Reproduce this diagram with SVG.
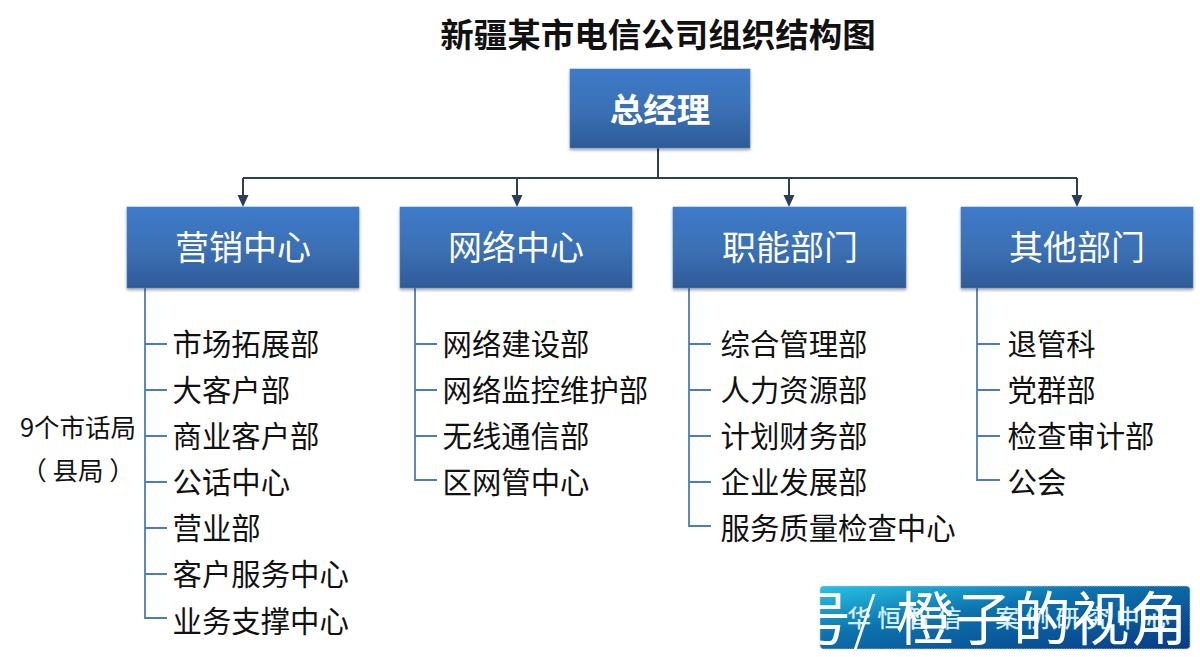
<svg xmlns="http://www.w3.org/2000/svg" width="1200" height="657" viewBox="0 0 1200 657">
<style>
text{font-family:"Noto Sans CJK SC","Microsoft YaHei",sans-serif}
.box{fill:url(#blue);stroke:#4f81bd;stroke-width:.6;filter:url(#sh)}
.t{font-size:34px;fill:#fff;text-anchor:middle}
.i{font-size:29.4px;fill:#111}
.b{fill:none;stroke:#4a7ebb;stroke-width:1.8}
.a{fill:none;stroke:#2b3f57;stroke-width:2}
.ah{fill:#2b3f57}
.wm{font-size:58px;fill:#fff}
</style>
<defs>
<linearGradient id="blue" x1="0" y1="0" x2="0" y2="1"><stop offset="0" stop-color="#3d7bc9"/><stop offset=".55" stop-color="#3a6fb3"/><stop offset="1" stop-color="#2e5b98"/></linearGradient>
<linearGradient id="wmg" x1="0" y1="0" x2="1" y2="1"><stop offset="0" stop-color="#27c3e6"/><stop offset=".4" stop-color="#0c72ae"/><stop offset="1" stop-color="#083a86"/></linearGradient>
<filter id="sh" x="-5%" y="-5%" width="110%" height="120%"><feDropShadow dx="0" dy="2" stdDeviation="1.5" flood-color="#000" flood-opacity=".35"/></filter>
</defs>
<text x="658" y="47" font-size="33.500" font-weight="700" fill="#111" text-anchor="middle">新疆某市电信公司组织结构图</text>
<g id="connectors">
<path class="a" d="M658 148V178M243 178H1077M243 178V199M517 178V199M789 178V199M1077 178V199"/>
<path class="ah" d="M237.500 195h11l-5.500 12zM511.500 195h11l-5.500 12zM783.500 195h11l-5.500 12zM1071.500 195h11l-5.500 12z"/>
<path class="b" d="M145 288V618H167M145 344H167M145 390H167M145 436H167M145 482H167M145 528H167M145 574H167"/>
<path class="b" d="M415 288V480H437M415 344H437M415 390H437M415 436H437"/>
<path class="b" d="M689 288V526H711M689 344H711M689 390H711M689 436H711M689 482H711"/>
<path class="b" d="M977 288V480H1000M977 344H1000M977 390H1000M977 436H1000"/>
</g>
<g id="gm"><rect class="box" x="570" y="69" width="180" height="79"/><text x="660" y="122" font-size="33.500" font-weight="700" fill="#fff" text-anchor="middle">总经理</text></g>
<g id="n1"><rect class="box" x="127" y="207" width="232" height="81"/><text class="t" x="243" y="260">营销中心</text></g>
<g id="n2"><rect class="box" x="400" y="207" width="232" height="81"/><text class="t" x="516" y="260">网络中心</text></g>
<g id="n3"><rect class="box" x="673" y="207" width="233" height="81"/><text class="t" x="790" y="260">职能部门</text></g>
<g id="n4"><rect class="box" x="961" y="207" width="232" height="81"/><text class="t" x="1077" y="260">其他部门</text></g>
<g id="list1">
<text class="i" x="172.500" y="355">市场拓展部</text>
<text class="i" x="172.500" y="401">大客户部</text>
<text class="i" x="172.500" y="447">商业客户部</text>
<text class="i" x="172.500" y="493">公话中心</text>
<text class="i" x="172.500" y="539">营业部</text>
<text class="i" x="172.500" y="585">客户服务中心</text>
<text class="i" x="172.500" y="632">业务支撑中心</text>
</g>
<g id="list2">
<text class="i" x="442.500" y="355">网络建设部</text>
<text class="i" x="442.500" y="401">网络监控维护部</text>
<text class="i" x="442.500" y="447">无线通信部</text>
<text class="i" x="442.500" y="493">区网管中心</text>
</g>
<g id="list3">
<text class="i" x="720.500" y="355">综合管理部</text>
<text class="i" x="720.500" y="401">人力资源部</text>
<text class="i" x="720.500" y="447">计划财务部</text>
<text class="i" x="720.500" y="493">企业发展部</text>
<text class="i" x="720.500" y="539">服务质量检查中心</text>
</g>
<g id="list4">
<text class="i" x="1007.500" y="355">退管科</text>
<text class="i" x="1007.500" y="401">党群部</text>
<text class="i" x="1007.500" y="447">检查审计部</text>
<text class="i" x="1007.500" y="493">公会</text>
</g>
<g id="side" fill="#111" font-size="25.500" text-anchor="middle">
<text x="78" y="437">9个市话局</text>
<text x="78" y="480">（ 县局 ）</text>
</g>
<g id="badge">
<rect x="820" y="586" width="370" height="63" rx="4" fill="url(#wmg)" stroke="#b9c8d8" stroke-dasharray="1.500 1"/>
<text x="847" y="627" font-size="24" font-weight="500" fill="#d6eef8" textLength="323">华恒智信—案例研究中心</text>
<text class="wm" x="793" y="640">号</text>
<text class="wm" x="853" y="640" font-weight="300">/</text>
<text class="wm" x="896" y="640" textLength="292">橙子的视角</text>
</g>
</svg>
